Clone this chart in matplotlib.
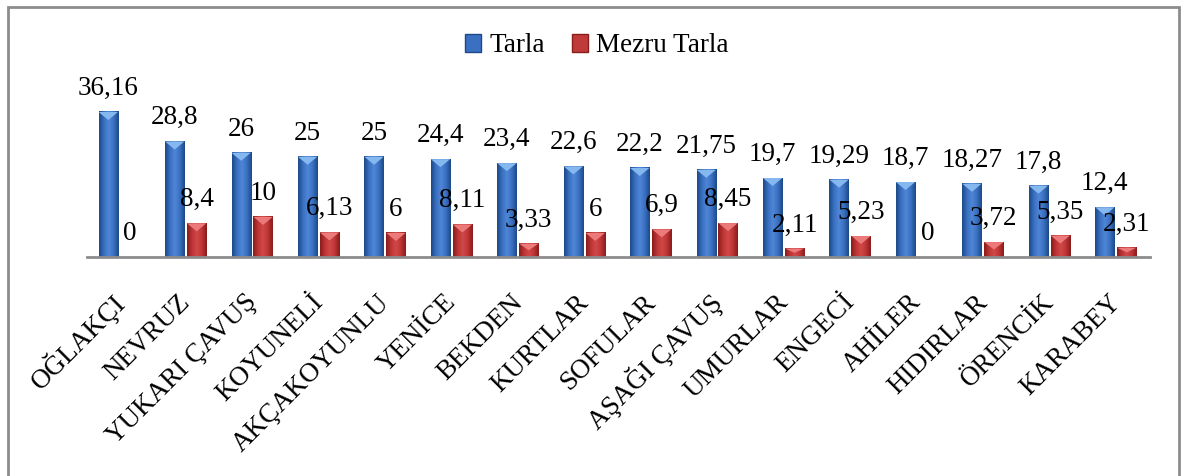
import numpy as np
import matplotlib
matplotlib.use("Agg")
import matplotlib.pyplot as plt
from matplotlib.patches import Polygon, Patch, Rectangle
from matplotlib.colors import LinearSegmentedColormap

villages = ["OĞLAKÇI", "NEVRUZ", "YUKARI ÇAVUŞ", "KOYUNELİ", "AKÇAKOYUNLU",
            "YENİCE", "BEKDEN", "KURTLAR", "SOFULAR", "AŞAĞI ÇAVUŞ",
            "UMURLAR", "ENGECİ", "AHİLER", "HIDIRLAR", "ÖRENCİK", "KARABEY"]
tarla = [36.16, 28.8, 26, 25, 25, 24.4, 23.4, 22.6, 22.2, 21.75,
         19.7, 19.29, 18.7, 18.27, 17.8, 12.4]
mezru = [0, 8.4, 10, 6.13, 6, 8.11, 3.33, 6, 6.9, 8.45,
         2.11, 5.23, 0, 3.72, 5.35, 2.31]

plt.rcParams['font.family'] = ['Liberation Serif', 'DejaVu Serif']
FS = 19.5

fig = plt.figure(figsize=(11.88, 4.76), dpi=100)
# outer frame
fig.patches.append(Rectangle((8 / 1188, -0.01), 1171 / 1188, 1 - 7 / 476 + 0.01,
                             transform=fig.transFigure, fill=False,
                             edgecolor='#8c8c8c', linewidth=2))

ax = fig.add_axes([87 / 1188, (476 - 257) / 476, 1063 / 1188, 160.4 / 476])
x = np.arange(len(villages))
w = 0.29

blue_cm = LinearSegmentedColormap.from_list(
    "b", ["#1c4a86", "#3a70c2", "#4f86d6", "#3a70c2", "#1c4a86"])
red_cm = LinearSegmentedColormap.from_list(
    "r", ["#8a1c1c", "#bd3535", "#d04848", "#bd3535", "#8a1c1c"])
grad = np.linspace(0, 1, 64).reshape(1, -1)


def shaded_bars(xpos, vals, cmap, tip, label):
    bars = ax.bar(xpos, vals, w, color='none', edgecolor='none', label=label)
    for b in bars:
        bx, bw, bh = b.get_x(), b.get_width(), b.get_height()
        if bh <= 0:
            continue
        ax.imshow(grad, cmap=cmap, extent=(bx, bx + bw, 0, bh),
                  aspect='auto', zorder=2)
        d = min(2.0, bh * 0.5)
        ax.add_patch(Polygon([(bx, bh), (bx + bw, bh), (bx + bw / 2, bh - d)],
                             closed=True, color=tip, zorder=3, lw=0))
        txt = f"{bh:g}".replace('.', ',')
        ax.annotate(txt, (bx + bw / 2, bh), xytext=(0, 17), textcoords='offset points',
                    ha='center', va='center', fontsize=FS)
    for bx, bh in zip(xpos, vals):
        if bh <= 0:
            ax.annotate("0", (bx, 0), xytext=(0, 17), textcoords='offset points',
                        ha='center', va='center', fontsize=FS)


shaded_bars(x - 0.18, tarla, blue_cm, "#86b8f0", "Tarla")
shaded_bars(x + 0.15, mezru, red_cm, "#ec7a7a", "Mezru Tarla")

ax.set_xlim(-0.5, len(villages) - 0.5)
ax.set_ylim(0, 40)
for s in ['top', 'right', 'left']:
    ax.spines[s].set_visible(False)
ax.spines['bottom'].set_color('#8c8c8c')
ax.spines['bottom'].set_linewidth(2)
ax.set_yticks([])
ax.set_xticks(x)
ax.set_xticklabels(villages, rotation=45, ha='right', va='center',
                   rotation_mode='anchor', fontsize=FS)
ax.tick_params(axis='x', length=0, pad=30)

handles = [Patch(facecolor='#3a70c2', edgecolor='#1c4a86'),
           Patch(facecolor='#c03a3a', edgecolor='#8a1c1c')]
fig.legend(handles, ["Tarla", "Mezru Tarla"], loc='center',
           bbox_to_anchor=(597 / 1188, 1 - 46 / 476), ncol=2, frameon=False,
           fontsize=FS, handlelength=0.6, handleheight=0.6,
           handletextpad=0.3, columnspacing=1.0)

fig.savefig("out.png", dpi=100)
